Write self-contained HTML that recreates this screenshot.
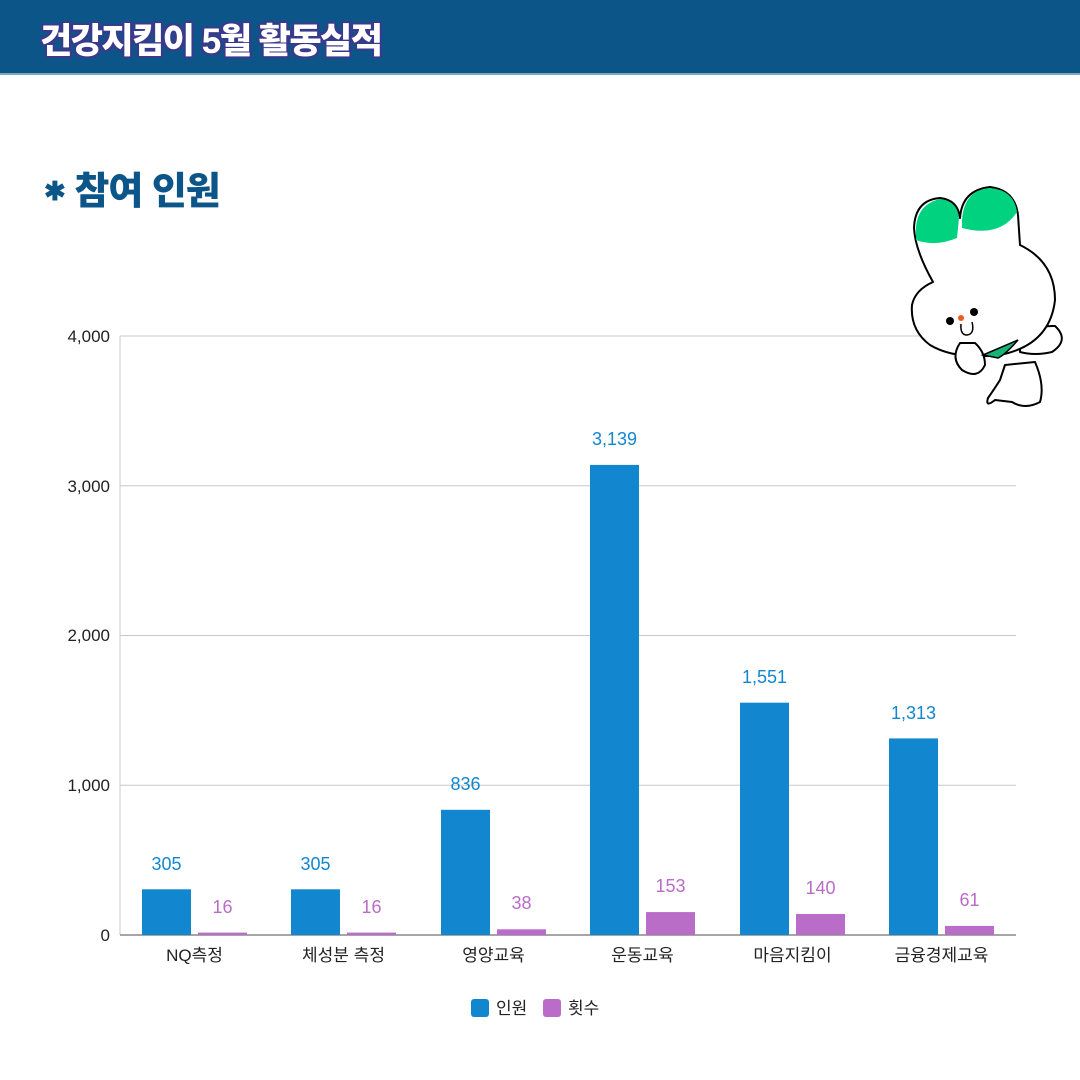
<!DOCTYPE html>
<html><head><meta charset="utf-8"><style>
html,body{margin:0;padding:0;background:#fff;}
body{width:1080px;height:1080px;position:relative;overflow:hidden;font-family:"Liberation Sans","Noto Sans CJK KR",sans-serif;}
.hdr{position:absolute;left:0;top:0;width:1080px;height:73px;background:#0b5588;border-bottom:2px solid #7fa6c4;}
.hdr span{position:absolute;left:40px;top:13px;font-size:35px;font-weight:900;color:#fff;letter-spacing:-1.5px;white-space:nowrap;
 text-shadow:-2px 0 #3a3a8c,2px 0 #3a3a8c,0 -2px #3a3a8c,0 2px #3a3a8c,2px 2px #3a3a8c,-2px -2px #3a3a8c,2px -2px #3a3a8c,-2px 2px #3a3a8c;}
.sub{position:absolute;left:44px;top:160px;font-size:38px;font-weight:900;color:#0b5588;letter-spacing:-1px;white-space:nowrap;}
svg{position:absolute;left:0;top:0;}
</style></head><body>
<div class="hdr"><span>건강지킴이 5월 활동실적</span></div>
<div class="sub"><span style="font-size:26px;vertical-align:4px">✱</span> 참여 인원</div>
<svg width="1080" height="1080" font-family="Liberation Sans, Noto Sans CJK KR, sans-serif">
<g stroke="#c8c8c8" stroke-width="1">
<line x1="120" y1="336" x2="1016" y2="336"/>
<line x1="120" y1="485.75" x2="1016" y2="485.75"/>
<line x1="120" y1="635.5" x2="1016" y2="635.5"/>
<line x1="120" y1="785.25" x2="1016" y2="785.25"/>
<line x1="120" y1="336" x2="120" y2="935"/>
</g>
<line x1="120" y1="935" x2="1016" y2="935" stroke="#888" stroke-width="1.5"/>
<g font-size="17" fill="#222" text-anchor="end">
<text x="110" y="342">4,000</text><text x="110" y="492">3,000</text><text x="110" y="641">2,000</text><text x="110" y="791">1,000</text><text x="110" y="941">0</text>
</g>
<g fill="#1287d0">
<rect x="142" y="889.3" width="49" height="45.7"/>
<rect x="291" y="889.3" width="49" height="45.7"/>
<rect x="441" y="809.8" width="49" height="125.2"/>
<rect x="590" y="464.9" width="49" height="470.1"/>
<rect x="740" y="702.7" width="49" height="232.3"/>
<rect x="889" y="738.4" width="49" height="196.6"/>
</g>
<g fill="#b96cc8">
<rect x="198" y="932.6" width="49" height="2.4"/>
<rect x="347" y="932.6" width="49" height="2.4"/>
<rect x="497" y="929.3" width="49" height="5.7"/>
<rect x="646" y="912.1" width="49" height="22.9"/>
<rect x="796" y="914" width="49" height="21"/>
<rect x="945" y="925.9" width="49" height="9.1"/>
</g>
<g font-size="18" fill="#1287d0" text-anchor="middle">
<text x="166.5" y="870">305</text><text x="315.5" y="870">305</text><text x="465.5" y="790">836</text>
<text x="614.5" y="445">3,139</text><text x="764.5" y="683">1,551</text><text x="913.5" y="719">1,313</text>
</g>
<g font-size="18" fill="#b96cc8" text-anchor="middle">
<text x="222.5" y="913">16</text><text x="371.5" y="913">16</text><text x="521.5" y="909">38</text>
<text x="670.5" y="892">153</text><text x="820.5" y="894">140</text><text x="969.5" y="906">61</text>
</g>
<g font-size="17" fill="#222" text-anchor="middle">
<text x="194.5" y="961">NQ측정</text><text x="343.5" y="961">체성분 측정</text><text x="493.5" y="961">영양교육</text>
<text x="642.5" y="961">운동교육</text><text x="792.5" y="961">마음지킴이</text><text x="941.5" y="961">금융경제교육</text>
</g>
<rect x="471" y="999" width="18" height="18" rx="3" fill="#1287d0"/>
<text x="496" y="1014" font-size="17" fill="#222">인원</text>
<rect x="543" y="999" width="18" height="18" rx="3" fill="#b96cc8"/>
<text x="568" y="1014" font-size="17" fill="#222">횟수</text>
<!-- mascot -->
<g stroke="#000" stroke-width="2" fill="#fff" stroke-linejoin="round">
<path d="M995,400 Q985,408 988,398 Q995,388 1000,380 L1005,365 L1035,362 Q1045,385 1040,402 Q1025,410 1012,402 Z"/>
<path d="M1020,345 Q1030,325 1055,326 Q1070,340 1052,352 Q1035,356 1020,352 Z"/>
<path d="M933,282 Q915,250 914,228 Q915,200 940,198 Q958,200 960,218 Q962,190 990,187 Q1015,190 1018,215 L1020,245 Q1055,262 1055,300 Q1050,345 1000,355 Q955,360 930,345 Q910,330 912,305 Q915,290 933,282 Z"/>
<path d="M960,343 Q950,358 962,370 Q978,380 985,365 Q985,352 975,343 Z"/>
</g>
<path d="M916,236 Q914,205 940,199 Q957,201 959,218 L957,238 Q935,247 916,240 Z" fill="#00d27f"/>
<path d="M962,220 Q964,190 990,188 Q1014,190 1017,212 Q1000,238 962,228 Z" fill="#00d27f"/>
<path d="M983,355 L1018,340 Q1005,355 998,358 Z" fill="#17b377" stroke="#000" stroke-width="1.5"/>
<circle cx="950" cy="321" r="4" fill="#000"/><circle cx="974" cy="312" r="4" fill="#000"/>
<circle cx="961" cy="318" r="3" fill="#f05a1e"/>
<path d="M961,324 Q960,335 967,335 Q975,334 972,322" fill="#fff" stroke="#000" stroke-width="1.5"/>
</svg>
</body></html>
